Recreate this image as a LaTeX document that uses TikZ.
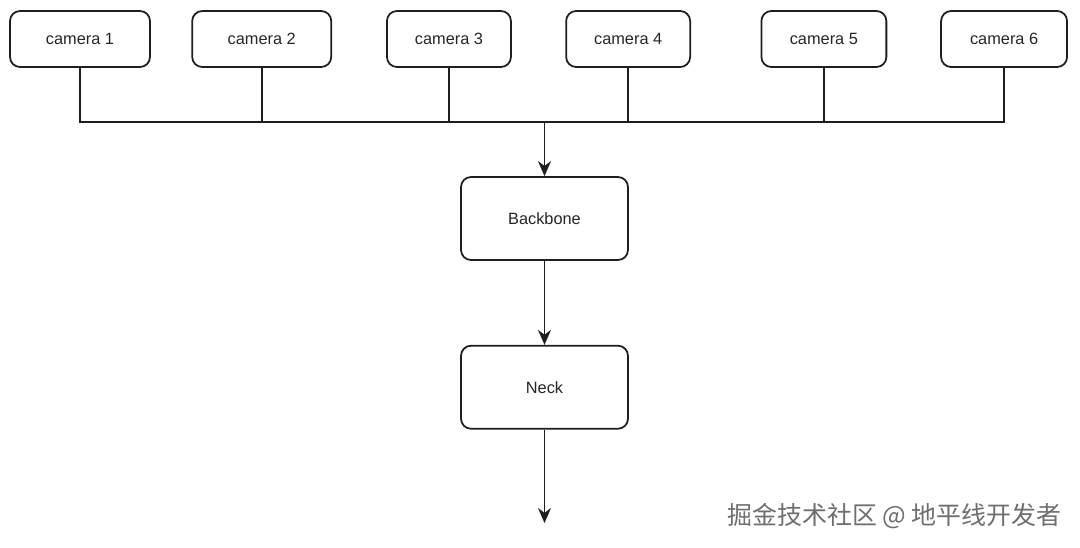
\documentclass[tikz,border=0pt]{standalone}
\usepackage{fontspec}
\setmainfont{Liberation Sans}
\newfontfamily\cjkfont{Noto Sans CJK SC}
\usetikzlibrary{arrows.meta,positioning}
\usepackage{xcolor}
\definecolor{linecolor}{RGB}{30,30,30}
\definecolor{markcolor}{RGB}{110,110,110}
\tikzset{
  cambox/.style={rectangle, draw=linecolor, line width=1pt, rounded corners=2mm, fill=white,
    minimum height=1.12cm, align=center, font=\fontsize{9.3}{11}\selectfont, text=black!85},
  netbox/.style={cambox, minimum width=3.34cm, minimum height=1.66cm},
  busline/.style={draw=linecolor, line width=1pt},
  myarrow/.style={busline, -{Stealth[length=3mm,width=2.6mm]}},
  marklbl/.style={font=\cjkfont\fontsize{14.2}{16}\selectfont, text=markcolor, inner sep=0pt},
}

\begin{document}
\begin{tikzpicture}[x=0.02cm, y=-0.02cm]
\useasboundingbox (0,0) rectangle (1080,548);

\node[cambox, minimum width=2.8cm] (cam1) at (80,39) {camera 1};
\node[cambox, minimum width=2.78cm, right=0.81cm of cam1] (cam2) {camera 2};
\node[cambox, minimum width=2.48cm, right=1.08cm of cam2] (cam3) {camera 3};
\node[cambox, minimum width=2.48cm, right=1.07cm of cam3] (cam4) {camera 4};
\node[cambox, minimum width=2.5cm, right=1.39cm of cam4] (cam5) {camera 5};
\node[cambox, minimum width=2.52cm, right=1.06cm of cam5] (cam6) {camera 6};

\node[netbox] (bb) at (544.5,218.5) {Backbone};
\node[netbox, below=1.68cm of bb] (neck) {Neck};

\coordinate (bus) at (544.5,122);
\coordinate (out) at (544.5,523);

% cameras joined on one bus
\draw[busline] (cam1.south) |- (bus) -| (cam6.south);
\foreach \i in {2,...,5}
  \draw[busline] (cam\i.south) -- (cam\i.south |- bus);

\draw[myarrow] (bus) -- (bb);
\draw[myarrow] (bb) -- (neck);
\draw[myarrow] (neck) -- (out);

\node[marklbl, anchor=east] (mark) at (1062,516) {掘金技术社区 @ 地平线开发者};

\end{tikzpicture}
\end{document}
